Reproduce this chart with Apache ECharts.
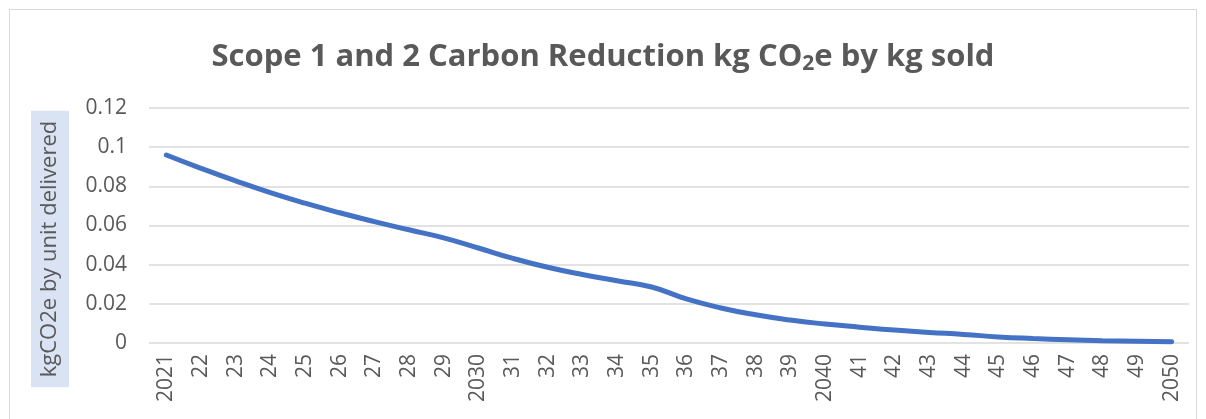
<!DOCTYPE html>
<html>
<head>
<meta charset="utf-8">
<script src="https://cdn.jsdelivr.net/npm/echarts@6/dist/echarts.min.js"></script>
<style>
html, body { margin: 0; padding: 0; background: #fff; }
#frame {
    position: absolute;
    left: 9px; top: 9px;
    width: 1188px; height: 420px;
    border: 1px solid #d9d9d9;
    box-sizing: border-box;
}
#chart { position: absolute; left: 0; top: 0; width: 1206px; height: 419px; }
</style>
</head>
<body>
<div id="frame"></div>
<div id="chart"></div>
<script>
// years 2021..2050, shown Excel-style as short labels
const years = ['2021', '22', '23', '24', '25', '26', '27', '28', '29', '2030',
    '31', '32', '33', '34', '35', '36', '37', '38', '39', '2040',
    '41', '42', '43', '44', '45', '46', '47', '48', '49', '2050']
const intensity = [0.096, 0.0892, 0.0828, 0.0768, 0.0714, 0.0665, 0.062, 0.0578, 0.0537, 0.0485,
    0.0432, 0.0387, 0.035, 0.0318, 0.0286, 0.0225, 0.0179, 0.0144, 0.0117, 0.0097,
    0.0081, 0.0066, 0.0054, 0.0044, 0.0031, 0.0023, 0.0017, 0.0012, 0.0009, 0.0006]
const yTicks = { min: 0, max: 0.12, interval: 0.02 }

const grey = '#595959'
const font = 'Open Sans'

let chart = echarts.init(document.getElementById('chart'))
chart.setOption({
    animation: false,
    title: {
        text: '{t|Scope 1 and 2 Carbon Reduction kg CO}{s|2}{t|e by kg sold}',
        left: 'center',
        top: 34,
        textStyle: {
            rich: {
                t: { fontFamily: font, fontSize: 31, fontWeight: 'bold', color: grey },
                s: { fontFamily: font, fontSize: 21, fontWeight: 'bold', color: grey, padding: [15, 0, 0, 0] }
            }
        }
    },
    grid: { left: 149, right: 17, top: 108, bottom: 76, containLabel: false },
    xAxis: {
        type: 'category',
        data: years,
        boundaryGap: true,
        axisLine: { show: false },
        axisTick: { show: false },
        axisLabel: { rotate: 90, margin: 11, interval: 0, color: grey, fontFamily: font, fontSize: 21 }
    },
    yAxis: {
        type: 'value',
        min: yTicks.min,
        max: yTicks.max,
        interval: yTicks.interval,
        axisLine: { show: false },
        axisTick: { show: false },
        splitLine: { lineStyle: { color: '#d9d9d9', width: 1.5 } },
        axisLabel: {
            margin: 22,
            color: grey,
            fontFamily: font,
            fontSize: 21,
            formatter: v => String(parseFloat(v.toFixed(2)))
        }
    },
    graphic: [{
        type: 'text',
        x: 50,
        y: 249,
        rotation: Math.PI / 2,
        style: {
            text: 'kgCO2e by unit delivered',
            fontFamily: font,
            fontSize: 22,
            fill: grey,
            align: 'center',
            verticalAlign: 'middle',
            backgroundColor: '#dae3f3',
            padding: [9, 10, 7, 10]
        }
    }],
    series: [{
        type: 'line',
        data: intensity,
        smooth: true,
        symbol: 'none',
        lineStyle: { color: '#4472c4', width: 5, cap: 'round' }
    }]
})
</script>
</body>
</html>
